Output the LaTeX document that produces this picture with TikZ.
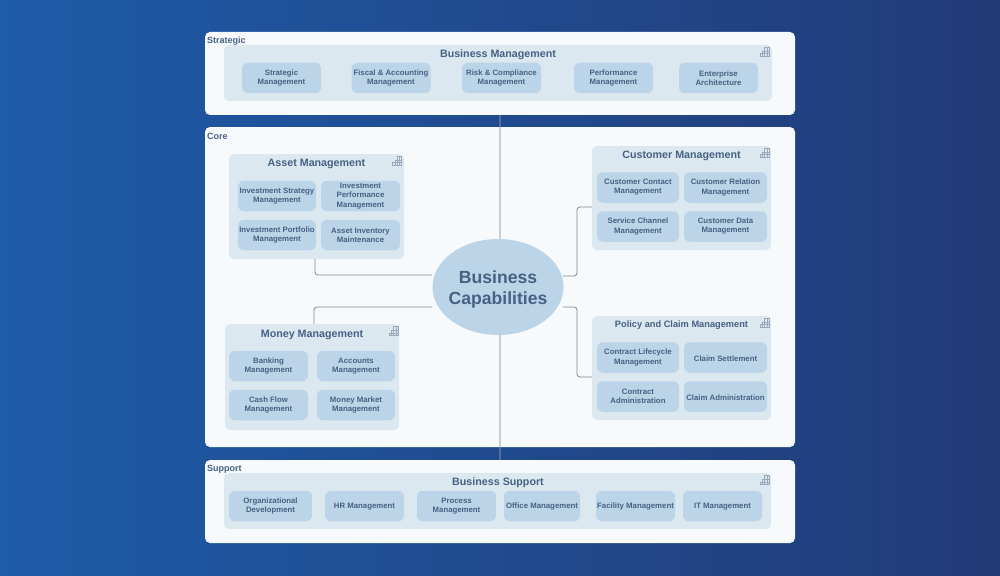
\documentclass[tikz,border=0pt]{standalone}
\usepackage{fontspec}
\usetikzlibrary{shapes.geometric}
\setmainfont{Liberation Sans}
\definecolor{inkblue}{HTML}{466183}
\definecolor{panelwhite}{HTML}{F6FAFD}
\definecolor{groupblue}{HTML}{DCE8F0}
\definecolor{boxblue}{HTML}{BBD4E7}
\definecolor{linegrey}{HTML}{80868C}
\definecolor{trunkgrey}{HTML}{8F98A3}
\definecolor{bgleft}{HTML}{1E5BA8}
\definecolor{bgright}{HTML}{223A76}
\tikzset{
  panel/.style={fill=panelwhite, rounded corners=5pt, minimum width=590, inner sep=0},
  group/.style={fill=groupblue, rounded corners=5pt, inner sep=0},
  capbox/.style={fill=boxblue, rounded corners=6pt, minimum width=79, minimum height=30.5, inner sep=0, align=center, text=inkblue, font=\bfseries\fontsize{7.8}{9.2}\selectfont, execute at begin node=\rule{0pt}{7.6pt}},
  paneltitle/.style={text=inkblue, inner sep=0, font=\bfseries\fontsize{9}{10}\selectfont},
  grouptitle/.style={text=inkblue, inner sep=0, font=\bfseries\fontsize{10.7}{12}\selectfont},
  link/.style={draw=linegrey, line width=0.8, rounded corners=3pt},
  trunk/.style={draw=trunkgrey, draw opacity=0.45, line width=1.7},
  capicon/.pic={
    \draw [inkblue!55, line width=0.4] (-4.5,4.5) -- (-4.5,2) -- (-2.25,2) -- (-2.25,-0.5) -- (0,-0.5) -- (0,-4.5) -- (4.5,-4.5) -- (4.5,4.5) -- cycle;
    \draw [inkblue!55, line width=0.4] (-2.25,2) -- (-2.25,4.5) (0,-0.5) -- (0,4.5) (2.25,-4.5) -- (2.25,4.5) (-2.25,2) -- (4.5,2) (0,-0.5) -- (4.5,-0.5) ;
  }
}
\begin{document}
\begin{tikzpicture}[x=1pt, y=-1pt]
\useasboundingbox (0,0) rectangle (1000,575);
\shade [left color=bgleft, right color=bgright] (0,0) rectangle (1000,575);

% panels
\node (strategic) at (500,73.5) [panel, minimum height=83] {};
\node (core) at (500,287) [panel, minimum height=320] {};
\node (support) at (500,501.5) [panel, minimum height=83] {};
\node (strategiclabel) at (207,41) [paneltitle, anchor=west] {Strategic};
\node (corelabel) at (207,136) [paneltitle, anchor=west] {Core};
\node (supportlabel) at (207,469) [paneltitle, anchor=west] {Support};

% groups
\node (bizmgmt) at (498,73) [group, minimum width=548, minimum height=56] {};
\node (asset) at (316.5,206.5) [group, minimum width=175, minimum height=105] {};
\node (customer) at (681.5,198) [group, minimum width=179, minimum height=104] {};
\node (policy) at (681.5,368) [group, minimum width=179, minimum height=104] {};
\node (money) at (312,377) [group, minimum width=174, minimum height=106] {};
\node (bizsupport) at (497.5,501) [group, minimum width=547, minimum height=56] {};

\node (bizmgmttitle) at (498,55) [grouptitle] {Business Management};
\node (assettitle) at (316.5,164) [grouptitle] {Asset Management};
\node (customertitle) at (681.5,155.5) [grouptitle] {Customer Management};
\node (policytitle) at (681.5,325) [grouptitle, font=\bfseries\fontsize{9.25}{12}\selectfont] {Policy and Claim Management};
\node (moneytitle) at (312,334.5) [grouptitle] {Money Management};
\node (bizsupporttitle) at (498,483) [grouptitle] {Business Support};

\pic at (764.5,51.5) {capicon};
\pic at (397,160.5) {capicon};
\pic at (764.5,152.5) {capicon};
\pic at (764.5,322.5) {capicon};
\pic at (393.5,331) {capicon};
\pic at (764.5,480) {capicon};

% strategic boxes
\node (stratm) at (281.5,78) [capbox] {Strategic\\Management};
\node (fiscal) at (391,78) [capbox] {Fiscal \& Accounting\\Management};
\node (risk) at (501.5,78) [capbox] {Risk \& Compliance\\Management};
\node (perf) at (613.5,78) [capbox] {Performance\\Management};
\node (enterprise) at (718.5,78) [capbox] {Enterprise\\Architecture};

% asset boxes
\node (invstrat) at (277,196) [capbox, minimum width=78] {Investment Strategy\\Management};
\node (invperf) at (360.5,196) [capbox] {Investment\\Performance\\Management};
\node (invport) at (277,235) [capbox, minimum width=78] {Investment Portfolio\\Management};
\node (inventory) at (360.5,235) [capbox] {Asset Inventory\\Maintenance};

% customer boxes
\node (contact) at (638,187.5) [capbox, minimum width=82] {Customer Contact\\Management};
\node (relation) at (725.5,187.5) [capbox, minimum width=83] {Customer Relation\\Management};
\node (channel) at (638,226.5) [capbox, minimum width=82] {Service Channel\\Management};
\node (custdata) at (725.5,226.5) [capbox, minimum width=83] {Customer Data\\Management};

% policy boxes
\node (lifecycle) at (638,357.5) [capbox, minimum width=82] {Contract Lifecycle\\Management};
\node (settlement) at (725.5,357.5) [capbox, minimum width=83] {Claim Settlement};
\node (contractadm) at (638,396.5) [capbox, minimum width=82] {Contract\\Administration};
\node (claimadm) at (725.5,396.5) [capbox, minimum width=83] {Claim Administration};

% money boxes
\node (banking) at (268.5,366) [capbox] {Banking\\Management};
\node (accounts) at (356,366) [capbox, minimum width=78] {Accounts\\Management};
\node (cashflow) at (268.5,405) [capbox] {Cash Flow\\Management};
\node (market) at (356,405) [capbox, minimum width=78] {Money Market\\Management};

% support boxes
\node (orgdev) at (270.5,506) [capbox, minimum width=83] {Organizational\\Development};
\node (hr) at (364.5,506) [capbox] {HR Management};
\node (process) at (456.5,506) [capbox] {Process\\Management};
\node (office) at (542,506) [capbox, minimum width=76] {Office Management};
\node (facility) at (635.5,506) [capbox] {Facility Management};
\node (it) at (722.5,506) [capbox] {IT Management};

% connectors
\coordinate (hub) at (500,287);
\draw [trunk] (strategic.south -| hub) -- (hub);
\draw [trunk] (hub) -- (support.north -| hub);
\node (capabilities) at (498,287) [ellipse, fill=boxblue, minimum width=131, minimum height=96, inner sep=0] {};
\node (capabilitieslabel) at (498,289) [align=center, inner sep=0, text=inkblue, font=\bfseries\fontsize{17.6}{21}\selectfont] {Business\\Capabilities};

\coordinate (assetend) at (432,275);
\coordinate (moneyend) at (432,307);
\coordinate (customerend) at (563,276);
\coordinate (policyend) at (563,307);
\draw [link] (asset.south -| 315,0) |- (assetend);
\draw [link] (money.north -| 314,0) |- (moneyend);
\draw [link] (customerend) -- (577,276) |- (customer.west |- 0,207);
\draw [link] (policyend) -- (577,307) |- (policy.west |- 0,377);

\end{tikzpicture}
\end{document}
